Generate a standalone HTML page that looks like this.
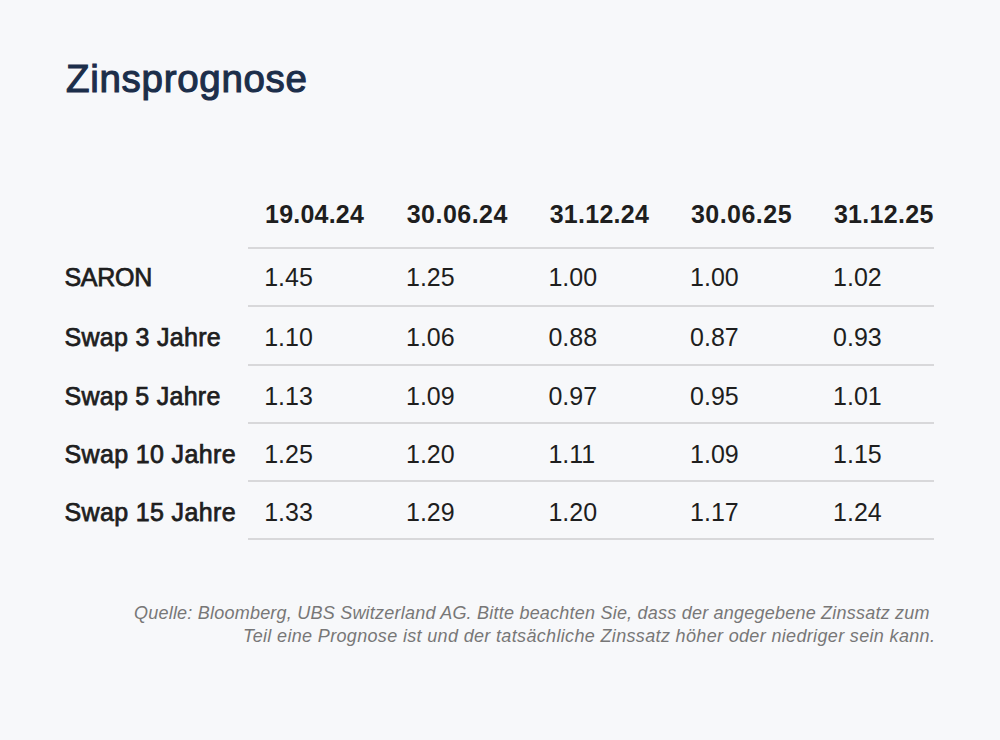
<!DOCTYPE html>
<html><head><meta charset="utf-8">
<style>
html,body{margin:0;padding:0;}
body{width:1000px;height:740px;background:#f7f8fa;position:relative;overflow:hidden;font-family:"Liberation Sans",sans-serif;}
.t{position:absolute;white-space:nowrap;line-height:1;}
h1{position:absolute;margin:0;left:66px;top:60px;font-size:38.5px;font-weight:normal;letter-spacing:0.7px;color:#1c2e4a;-webkit-text-stroke:1.1px #1c2e4a;line-height:1;white-space:nowrap;}
.hd{font-weight:bold;font-size:25px;color:#1e1e1e;}
.lb{font-size:25px;color:#1e1e1e;-webkit-text-stroke:0.75px #1e1e1e;}
.v{font-size:25px;color:#1e1e1e;}
.ln{position:absolute;left:248px;width:686px;height:2px;background:#d8d8da;}
.ft{position:absolute;font-style:italic;font-size:18px;color:#777;white-space:nowrap;line-height:1;}
</style></head><body>
<h1>Zinsprognose</h1>

<div class="t hd" style="left:265.1px;top:202px;letter-spacing:0.2px">19.04.24</div>
<div class="t hd" style="left:406.7px;top:202px;letter-spacing:0.48px">30.06.24</div>
<div class="t hd" style="left:549.7px;top:202px;letter-spacing:0.27px">31.12.24</div>
<div class="t hd" style="left:690.9px;top:202px;letter-spacing:0.48px">30.06.25</div>
<div class="t hd" style="left:833.9px;top:202px;letter-spacing:0.3px">31.12.25</div>
<div class="ln" style="top:247px"></div>
<div class="ln" style="top:305px"></div>
<div class="ln" style="top:364px"></div>
<div class="ln" style="top:422px"></div>
<div class="ln" style="top:480px"></div>
<div class="ln" style="top:538px"></div>
<div class="t lb" style="left:64.5px;top:265px;letter-spacing:-0.3px">SARON</div>
<div class="t v" style="left:264.2px;top:265px">1.45</div>
<div class="t v" style="left:406.0px;top:265px">1.25</div>
<div class="t v" style="left:548.4px;top:265px">1.00</div>
<div class="t v" style="left:690.1px;top:265px">1.00</div>
<div class="t v" style="left:833.1px;top:265px">1.02</div>
<div class="t lb" style="left:64.5px;top:325px;letter-spacing:0.3px">Swap 3 Jahre</div>
<div class="t v" style="left:264.2px;top:325px">1.10</div>
<div class="t v" style="left:406.0px;top:325px">1.06</div>
<div class="t v" style="left:548.4px;top:325px">0.88</div>
<div class="t v" style="left:690.1px;top:325px">0.87</div>
<div class="t v" style="left:833.1px;top:325px">0.93</div>
<div class="t lb" style="left:64.5px;top:384px;letter-spacing:0.27px">Swap 5 Jahre</div>
<div class="t v" style="left:264.2px;top:384px">1.13</div>
<div class="t v" style="left:406.0px;top:384px">1.09</div>
<div class="t v" style="left:548.4px;top:384px">0.97</div>
<div class="t v" style="left:690.1px;top:384px">0.95</div>
<div class="t v" style="left:833.1px;top:384px">1.01</div>
<div class="t lb" style="left:64.5px;top:442px;letter-spacing:0.36px">Swap 10 Jahre</div>
<div class="t v" style="left:264.2px;top:442px">1.25</div>
<div class="t v" style="left:406.0px;top:442px">1.20</div>
<div class="t v" style="left:548.4px;top:442px">1.11</div>
<div class="t v" style="left:690.1px;top:442px">1.09</div>
<div class="t v" style="left:833.1px;top:442px">1.15</div>
<div class="t lb" style="left:64.5px;top:500px;letter-spacing:0.36px">Swap 15 Jahre</div>
<div class="t v" style="left:264.2px;top:500px">1.33</div>
<div class="t v" style="left:406.0px;top:500px">1.29</div>
<div class="t v" style="left:548.4px;top:500px">1.20</div>
<div class="t v" style="left:690.1px;top:500px">1.17</div>
<div class="t v" style="left:833.1px;top:500px">1.24</div>
<div class="ft" style="left:134px;top:604px;letter-spacing:0.22px">Quelle: Bloomberg, UBS Switzerland AG. Bitte beachten Sie, dass der angegebene Zinssatz zum</div>
<div class="ft" style="left:243px;top:627px;letter-spacing:0.34px">Teil eine Prognose ist und der tatsächliche Zinssatz höher oder niedriger sein kann.</div>
</body></html>
